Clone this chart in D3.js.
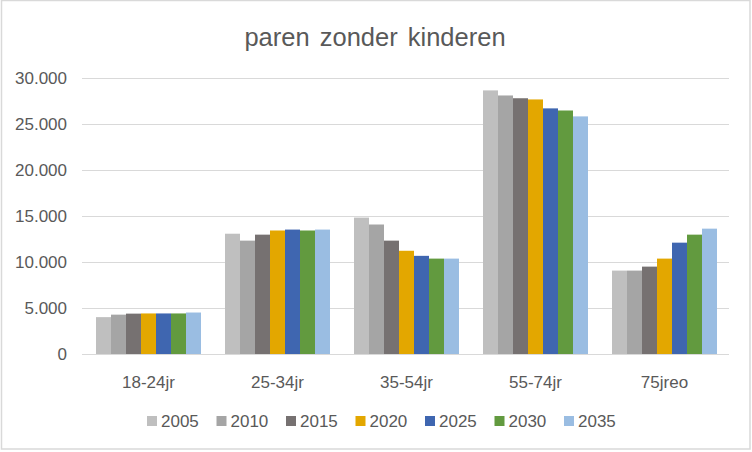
<!DOCTYPE html>
<html>
<head>
<meta charset="utf-8">
<script src="https://cdn.jsdelivr.net/npm/d3@7"></script>
<style>
  html, body { margin: 0; padding: 0; background: #fff; }
  svg { display: block; }
</style>
</head>
<body>
<svg id="chart" width="752" height="452"></svg>
<script>
const title = "paren zonder kinderen";
const categories = ["18-24jr", "25-34jr", "35-54jr", "55-74jr", "75jreo"];
const years = ["2005", "2010", "2015", "2020", "2025", "2030", "2035"];
const colors = ["#BFBFBF", "#A5A5A5", "#767171", "#E3A700", "#3F66B0", "#629A3F", "#9ABDE2"];
const v2005 = [4000, 13050, 14800, 28600, 9050];
const v2010 = [4270, 12300, 14050, 28050, 9050];
const v2015 = [4380, 12950, 12300, 27750, 9480];
const v2020 = [4400, 13400, 11200, 27620, 10350];
const v2025 = [4400, 13500, 10650, 26650, 12080];
const v2030 = [4400, 13400, 10350, 26420, 12950];
const v2035 = [4500, 13500, 10350, 25780, 13600];
const series = [v2005, v2010, v2015, v2020, v2025, v2030, v2035];
const yTicks = [0, 5000, 10000, 15000, 20000, 25000, 30000];
const tickLabels = ["0", "5.000", "10.000", "15.000", "20.000", "25.000", "30.000"];

const svg = d3.select("#chart");
const font = "'Liberation Sans', Arial, sans-serif";
const textColor = "#595959";

// outer border
svg.append("rect").attr("x", 1.5).attr("y", 0.5).attr("width", 748.5).attr("height", 448.5)
  .attr("fill", "#fff").attr("stroke", "#D9D9D9").attr("stroke-width", 1.5);

const plot = { left: 84, right: 729, top: 77.5, bottom: 354 };

const y = d3.scaleLinear().domain([0, 30000]).range([plot.bottom, plot.top]);
const x0 = d3.scaleBand().domain(categories).range([plot.left, plot.right])
  .paddingInner(0.186).paddingOuter(0.093);
const x1 = d3.scaleBand().domain(years).range([0, x0.bandwidth()]).padding(0);

// gridlines
svg.append("g").selectAll("line").data(yTicks).join("line")
  .attr("x1", plot.left - 2).attr("x2", plot.right)
  .attr("y1", d => Math.round(y(d)) + 0.5).attr("y2", d => Math.round(y(d)) + 0.5)
  .attr("stroke", "#D9D9D9").attr("stroke-width", 1);

// y tick labels
svg.append("g").selectAll("text").data(yTicks).join("text")
  .attr("x", 67).attr("y", d => y(d) + 6)
  .attr("text-anchor", "end")
  .attr("font-family", font).attr("font-size", 17).attr("fill", textColor)
  .text((d, i) => tickLabels[i]);

// bars
const groups = svg.append("g").selectAll("g").data(categories).join("g")
  .attr("transform", c => `translate(${x0(c)},0)`);
groups.selectAll("rect")
  .data((c, ci) => years.map((yr, si) => ({ yr, si, value: series[si][ci] })))
  .join("rect")
  .attr("x", d => x1(d.yr))
  .attr("y", d => y(d.value))
  .attr("width", x1.bandwidth())
  .attr("height", d => y(0) - y(d.value))
  .attr("fill", d => colors[d.si]);

// category labels
svg.append("g").selectAll("text").data(categories).join("text")
  .attr("x", c => x0(c) + x0.bandwidth() / 2).attr("y", 388)
  .attr("text-anchor", "middle")
  .attr("font-family", font).attr("font-size", 17).attr("fill", textColor)
  .text(c => c);

// title
svg.append("text").attr("x", 375).attr("y", 46).attr("text-anchor", "middle")
  .attr("font-family", font).attr("font-size", 25.5).attr("fill", textColor)
  .attr("word-spacing", 3)
  .text(title);

// legend
const legend = svg.append("g").selectAll("g").data(years).join("g")
  .attr("transform", (d, i) => `translate(${147 + i * 69.5},0)`);
legend.append("rect").attr("x", 0).attr("y", 416).attr("width", 10).attr("height", 10)
  .attr("fill", (d, i) => colors[i]);
legend.append("text").attr("x", 14).attr("y", 427)
  .attr("font-family", font).attr("font-size", 17).attr("fill", textColor)
  .text(d => d);
</script>
</body>
</html>
